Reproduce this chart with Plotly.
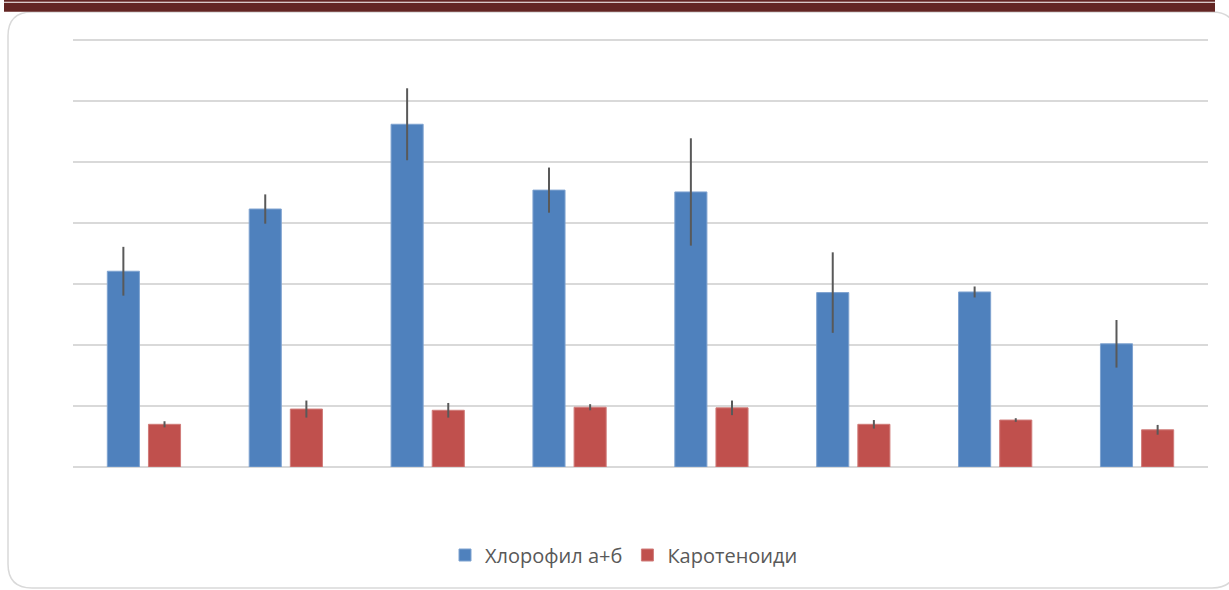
import plotly.graph_objects as go

categories = ["1", "2", "3", "4", "5", "6", "7", "8"]
chlorophyll = [3.21, 4.23, 5.62, 4.54, 4.51, 2.86, 2.87, 2.02]
chlorophyll_err = [0.40, 0.24, 0.59, 0.37, 0.88, 0.66, 0.09, 0.39]
carotenoids = [0.70, 0.95, 0.93, 0.98, 0.97, 0.70, 0.77, 0.61]
carotenoids_err = [0.05, 0.14, 0.12, 0.05, 0.12, 0.07, 0.03, 0.08]
series_names = ["Хлорофил а+б", "Каротеноиди"]

L, R, T, B = 73, 1208, 34, 467
W, H = 1229, 590
YMAX = 7.1


def px(x):
    return (x - L) / (R - L)


def py(y):
    return (B - y) / (B - T)


err_style = dict(type="data", color="#595959", thickness=2, width=0)

fig = go.Figure()
fig.add_trace(go.Bar(
    x=categories, y=chlorophyll, name=series_names[0],
    marker=dict(color="#4f81bd", line=dict(color="#7fa3d0", width=1)),
    error_y=dict(array=chlorophyll_err, **err_style),
))
fig.add_trace(go.Bar(
    x=categories, y=carotenoids, name=series_names[1],
    marker=dict(color="#c0504d", line=dict(color="#d07c7a", width=1)),
    error_y=dict(array=carotenoids_err, **err_style),
))

# rounded border
x0, y0, x1, y1, r = 8, 12, 1236, 588, 24
path = (
    f"M {px(x0 + r)},{py(y0)} L {px(x1 - r)},{py(y0)} "
    f"Q {px(x1)},{py(y0)} {px(x1)},{py(y0 + r)} "
    f"L {px(x1)},{py(y1 - r)} Q {px(x1)},{py(y1)} {px(x1 - r)},{py(y1)} "
    f"L {px(x0 + r)},{py(y1)} Q {px(x0)},{py(y1)} {px(x0)},{py(y1 - r)} "
    f"L {px(x0)},{py(y0 + r)} Q {px(x0)},{py(y0)} {px(x0 + r)},{py(y0)} Z"
)
shapes = [
    dict(type="path", xref="paper", yref="paper", path=path,
         line=dict(color="#d9d9d9", width=1.5), fillcolor="rgba(0,0,0,0)", layer="below"),
    dict(type="rect", xref="paper", yref="paper", x0=px(4), x1=px(1215),
         y0=py(1.8), y1=py(-2), fillcolor="#632523", line=dict(width=0)),
    dict(type="rect", xref="paper", yref="paper", x0=px(4), x1=px(1215),
         y0=py(11.7), y1=py(2.8), fillcolor="#632523", line=dict(width=0)),
]

fig.update_layout(
    width=W, height=H,
    margin=dict(l=L, r=W - R, t=T, b=H - B, pad=0),
    paper_bgcolor="white", plot_bgcolor="white",
    barmode="group", bargap=0.42, bargroupgap=0.22,
    showlegend=True,
    legend=dict(orientation="h", x=px(624), xanchor="center", y=py(555), yanchor="middle",
                font=dict(family="Open Sans", size=20, color="#595959"),
                itemwidth=30, tracegroupgap=0),
    font=dict(family="Open Sans", color="#595959"),
    shapes=shapes,
    xaxis=dict(showticklabels=False, showgrid=False, zeroline=False, showline=False, ticks=""),
    yaxis=dict(range=[0, YMAX], tick0=0, dtick=1, showticklabels=False, showgrid=True,
               gridcolor="#d9d9d9", gridwidth=1.5, zeroline=True, zerolinecolor="#d9d9d9",
               zerolinewidth=1.5, showline=False, ticks=""),
)

fig.write_html("out.html", config={"displayModeBar": False},
               post_script="document.body.style.margin='0';document.body.style.overflow='hidden';")
